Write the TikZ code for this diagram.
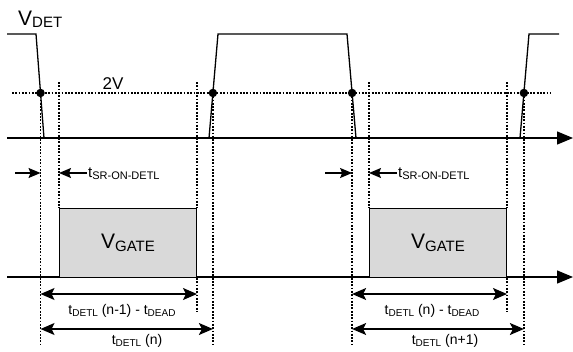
\documentclass[tikz,border=0pt]{standalone}
\usepackage{fontspec}
\setmainfont{Liberation Sans}
\usepackage{xcolor}
\usetikzlibrary{arrows.meta, positioning}

\definecolor{gatefill}{RGB}{217,217,217}
\newcommand{\vsub}[1]{V\raisebox{-2.5pt}{\fontsize{15}{15}\selectfont #1}}
\newcommand{\tsub}[2][10]{t\raisebox{-2pt}{\fontsize{#1}{#1}\selectfont #2}}

\begin{document}
\begin{tikzpicture}[
    x=1pt, y=-1pt,
    >={Stealth[length=14pt, width=12pt, inset=3pt]},
    wave/.style={line width=1.3pt},
    axis/.style={line width=1.3pt, -{Triangle[length=16pt, width=13pt]}},
    guide/.style={line width=1.3pt, dash pattern=on 1.8pt off 1.5pt},
    crossing/.style={circle, fill=black, inner sep=0pt, minimum size=8.5pt},
    gatebox/.style={draw, line width=1pt, fill=gatefill, anchor=north west,
        minimum width=137pt, minimum height=69pt, inner sep=0pt,
        font=\fontsize{21}{21}\selectfont},
    dim/.style={<->, line width=1.2pt},
    srarrow/.style={-{Stealth[length=12pt, width=10pt, inset=2pt]}, line width=1.3pt},
    tlabel/.style={inner sep=0pt, font=\fontsize{14}{14}\selectfont}
]
\useasboundingbox (0,0) rectangle (573,351);

% helper rows
\coordinate (top) at (0,82);
\coordinate (mid) at (0,312);
\coordinate (bot) at (0,345);
\coordinate (sr) at (0,173);
\coordinate (d1) at (0,294);
\coordinate (d2) at (0,329);

% V_DET waveform
\coordinate (f1t) at (36,34);  \coordinate (f1b) at (44,138);
\coordinate (r1b) at (209,138); \coordinate (r1t) at (218,34);
\coordinate (f2t) at (347,34); \coordinate (f2b) at (356,138);
\coordinate (r2b) at (520,138); \coordinate (r2t) at (529,34);

\draw[wave] (7,34) -- (f1t) -- (f1b) coordinate[pos=0.567] (x1);
\draw[wave] (r1b) -- (r1t) coordinate[pos=0.433] (x2) -- (f2t) -- (f2b) coordinate[pos=0.567] (x3);
\draw[wave] (r2b) -- (r2t) coordinate[pos=0.433] (x4) -- (559,34);

\coordinate (ax1s) at (7,138); \coordinate (ax1e) at (573,138);
\coordinate (ax2s) at (7,277); \coordinate (ax2e) at (573,277);
\draw[axis] (ax1s) -- (ax1e);
\draw[axis] (ax2s) -- (ax2e);

\node[anchor=base west, inner sep=0pt, font=\fontsize{21}{21}\selectfont] (vdet) at (18,25) {\vsub{DET}};

% 2V threshold
\coordinate (lvs) at (12,93); \coordinate (lve) at (550,93);
\draw[guide] (lvs) -- (lve);
\node[anchor=base, inner sep=0pt, font=\fontsize{17}{17}\selectfont] (lvl) at (113,89) {2V};

% gate pulses
\node[gatebox] (gA) at (59,208) {\vsub{GATE}};
\node[gatebox] (gB) at (369,208) {\vsub{GATE}};

% dotted guides
\draw[guide] (x1) -- (x1 |- bot);
\draw[guide] (x2) -- (x2 |- bot);
\draw[guide] (x3) -- (x3 |- bot);
\draw[guide] (x4) -- (x4 |- bot);
\draw[guide] (gA.north west |- top) -- (gA.north west);
\draw[guide] (gA.north east |- top) -- (gA.north east);
\draw[guide] (gA.south east) -- (gA.south east |- mid);
\draw[guide] (gB.north west |- top) -- (gB.north west);
\draw[guide] (gB.north east |- top) -- (gB.north east);
\draw[guide] (gB.south east) -- (gB.south east |- mid);

% t_SR-ON-DETL
\coordinate (srA1) at (15,173); \coordinate (srA2) at (87,173);
\coordinate (srB1) at (325,173); \coordinate (srB2) at (397,173);
\draw[srarrow] (srA1) -- (x1 |- sr);
\draw[srarrow] (srA2) -- (gA.north west |- sr);
\draw[srarrow] (srB1) -- (x3 |- sr);
\draw[srarrow] (srB2) -- (gB.north west |- sr);
\node[tlabel, anchor=west, font=\fontsize{15}{15}\selectfont] (srlA) at (88,174) {\tsub[11]{SR-ON-DETL}};
\node[tlabel, anchor=west, font=\fontsize{15}{15}\selectfont] (srlB) at (398,174) {\tsub[11]{SR-ON-DETL}};

% periods
\draw[dim] (x1 |- d1) -- (gA.north east |- d1);
\draw[dim] (x1 |- d2) -- (x2 |- d2);
\draw[dim] (x3 |- d1) -- (gB.north east |- d1);
\draw[dim] (x3 |- d2) -- (x4 |- d2);
\node[tlabel] (pA1) at (122,311) {\tsub{DETL} (n-1) - \tsub{DEAD}};
\node[tlabel] (pA2) at (137,341) {\tsub{DETL} (n)};
\node[tlabel] (pB1) at (432,311) {\tsub{DETL} (n) - \tsub{DEAD}};
\node[tlabel] (pB2) at (445,341) {\tsub{DETL} (n+1)};

% level dots
\foreach \p in {x1,x2,x3,x4}
    \node[crossing] at (\p) {};

\end{tikzpicture}
\end{document}
